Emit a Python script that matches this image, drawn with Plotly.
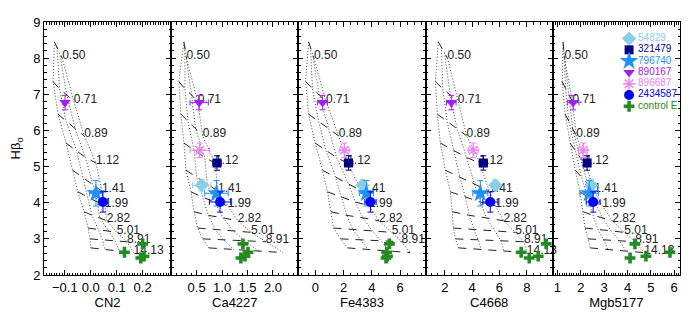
import plotly.graph_objects as go

# ---------------- data ----------------
ages = ["0.50", "0.71", "0.89", "1.12", "1.41", "1.99", "2.82", "5.01", "8.91", "14.13"]

# SSP model grid: one row per age, columns = 4 metallicities (low -> high)
model_hbeta = [
    [8.45, 8.30, 8.15, 8.00],
    [7.35, 7.15, 6.98, 6.80],
    [6.45, 6.25, 6.05, 5.85],
    [5.65, 5.45, 5.25, 5.10],
    [4.90, 4.70, 4.50, 4.32],
    [4.30, 4.15, 4.02, 3.92],
    [3.75, 3.65, 3.58, 3.50],
    [3.30, 3.25, 3.22, 3.18],
    [3.00, 2.97, 2.94, 2.92],
    [2.75, 2.70, 2.66, 2.62],
]
model_cn2 = [
    [-0.140, -0.130, -0.120, -0.110],
    [-0.145, -0.120, -0.092, -0.065],
    [-0.126, -0.095, -0.060, -0.025],
    [-0.095, -0.055, -0.020, 0.020],
    [-0.070, -0.030, 0.008, 0.043],
    [-0.050, -0.012, 0.025, 0.054],
    [-0.025, 0.005, 0.035, 0.062],
    [-0.010, 0.030, 0.068, 0.100],
    [-0.003, 0.045, 0.095, 0.140],
    [0.000, 0.055, 0.110, 0.165],
]
model_ca4227 = [
    [0.25, 0.27, 0.28, 0.30],
    [0.15, 0.27, 0.40, 0.52],
    [0.19, 0.33, 0.48, 0.62],
    [0.25, 0.45, 0.66, 0.86],
    [0.29, 0.50, 0.71, 0.92],
    [0.39, 0.62, 0.86, 1.11],
    [0.45, 0.73, 1.02, 1.31],
    [0.52, 0.87, 1.22, 1.57],
    [0.62, 1.03, 1.45, 1.86],
    [0.74, 1.23, 1.72, 2.20],
]
model_fe4383 = [
    [-0.48, -0.35, -0.22, -0.10],
    [-0.69, -0.20, 0.28, 0.75],
    [-0.48, 0.23, 0.94, 1.65],
    [-0.01, 0.75, 1.50, 2.25],
    [0.50, 1.43, 2.37, 3.30],
    [0.86, 1.84, 2.82, 3.80],
    [1.10, 2.23, 3.37, 4.50],
    [1.29, 2.66, 4.03, 5.40],
    [1.78, 3.22, 4.66, 6.10],
    [2.27, 3.75, 5.22, 6.70],
]
model_c4668 = [
    [1.53, 1.75, 1.98, 2.20],
    [1.32, 1.86, 2.40, 2.95],
    [1.46, 2.17, 2.89, 3.60],
    [1.68, 2.64, 3.60, 4.55],
    [2.04, 3.11, 4.18, 5.25],
    [2.41, 3.51, 4.60, 5.70],
    [2.55, 3.80, 5.05, 6.30],
    [2.63, 4.14, 5.65, 7.15],
    [2.78, 4.45, 6.12, 7.80],
    [3.00, 4.67, 6.33, 8.00],
]
model_mgb5177 = [
    [1.24, 1.26, 1.28, 1.30],
    [1.20, 1.35, 1.50, 1.64],
    [1.33, 1.49, 1.65, 1.81],
    [1.54, 1.76, 1.97, 2.19],
    [1.76, 2.03, 2.31, 2.58],
    [1.97, 2.29, 2.60, 2.92],
    [2.10, 2.52, 2.93, 3.35],
    [2.18, 2.74, 3.30, 3.86],
    [2.31, 2.98, 3.66, 4.33],
    [2.40, 3.17, 3.95, 4.72],
]
# which age labels are printed in each panel
labels_shown_cn2 = ages
labels_shown_ca4227 = ages[:-1]
labels_shown_fe4383 = ages[:-1]
labels_shown_c4668 = ages
labels_shown_mgb5177 = ages

# galaxies
gal_names = ["54829", "321479", "796740", "890167", "896687", "2434587"]
gal_hbeta = [4.48, 5.10, 4.26, 6.77, 5.45, 4.02]
gal_hbeta_err = [0.15, 0.20, 0.35, 0.20, 0.20, 0.28]
gal_cn2 = [None, None, 0.020, -0.099, None, 0.047]
gal_cn2_err = [None, None, 0.025, 0.005, None, 0.015]
gal_ca4227 = [0.60, 0.90, 0.89, 0.55, 0.56, 0.96]
gal_ca4227_err = [0.18, 0.08, 0.23, 0.18, 0.19, 0.21]
gal_fe4383 = [3.33, 2.35, 3.61, 0.51, 2.06, 3.90]
gal_fe4383_err = [0.25, 0.30, 0.50, 0.35, 0.33, 0.40]
gal_c4668 = [5.70, 4.82, 4.60, 2.48, 4.09, 5.33]
gal_c4668_err = [0.30, 0.30, 0.55, 0.35, 0.35, 0.55]
gal_mgb5177 = [2.44, 2.27, 2.36, 1.67, 2.10, 2.53]
gal_mgb5177_err = [0.20, 0.15, 0.40, 0.25, 0.20, 0.30]

# control ellipticals
ctrl_hbeta = [2.86, 2.63, 2.47, 2.52]
ctrl_cn2 = [0.200, 0.130, 0.193, 0.205]
ctrl_ca4227 = [1.41, 1.51, 1.37, 1.45]
ctrl_fe4383 = [5.24, 5.05, 5.00, 5.10]
ctrl_c4668 = [9.42, 7.59, 8.18, 8.83]
ctrl_mgb5177 = [4.32, 5.82, 4.11, 4.79]

# axes
panel_titles = ["CN2", "Ca4227", "Fe4383", "C4668", "Mgb5177"]
x_ranges = [[-0.18, 0.31], [0.0, 2.5], [-1.2, 7.8], [0.6, 9.9], [0.8, 6.25]]
x_tickvals = [[-0.1, 0.0, 0.1, 0.2], [0.5, 1.0, 1.5, 2.0], [0, 2, 4, 6], [2, 4, 6, 8], [1, 2, 3, 4, 5, 6]]
x_ticktext = [["−0.1", "0.0", "0.1", "0.2"], ["0.5", "1.0", "1.5", "2.0"], ["0", "2", "4", "6"],
              ["2", "4", "6", "8"], ["1", "2", "3", "4", "5", "6"]]
x_minor = [0.01, 0.1, 0.5, 0.5, 0.1]
y_range = [2, 9]
y_ticks = [2, 3, 4, 5, 6, 7, 8, 9]

# ---------------- styles ----------------
gal_colors = ["#87CEEB", "#000080", "#1E90FF", "#A020F0", "#EE82EE", "#0000FF"]
gal_symbols = ["diamond", "square", "star", "triangle-down", "asterisk-open", "circle"]
gal_sizes = [11, 9, 14, 10, 10, 10]
ctrl_color = "#228B22"
FONT = "Liberation Sans"

# the page body has an 8px margin: the figure is shrunk so that it fits the window
OFF = 8
W, H = 691 - OFF, 316 - OFF
ML, MR, MT, MB = 43 - OFF, 11, 15 - OFF, 41

models = [model_cn2, model_ca4227, model_fe4383, model_c4668, model_mgb5177]
shown = [labels_shown_cn2, labels_shown_ca4227, labels_shown_fe4383, labels_shown_c4668, labels_shown_mgb5177]
gal_x = [gal_cn2, gal_ca4227, gal_fe4383, gal_c4668, gal_mgb5177]
gal_xe = [gal_cn2_err, gal_ca4227_err, gal_fe4383_err, gal_c4668_err, gal_mgb5177_err]
ctrl_x = [ctrl_cn2, ctrl_ca4227, ctrl_fe4383, ctrl_c4668, ctrl_mgb5177]

fig = go.Figure()
layout = {}
npan = 5
for i in range(npan):
    xa = "x" if i == 0 else f"x{i+1}"
    ya = "y" if i == 0 else f"y{i+1}"
    model = models[i]
    nz = len(model[0])
    # constant-metallicity tracks (dotted)
    for z in range(nz):
        fig.add_trace(go.Scatter(
            x=[row[z] for row in model], y=[row[z] for row in model_hbeta],
            mode="lines", line=dict(color="#444444", width=1, dash="1px,2px"),
            xaxis=xa, yaxis=ya, showlegend=False, hoverinfo="skip"))
    # constant-age lines (dashed)
    for a in range(len(ages)):
        fig.add_trace(go.Scatter(
            x=model[a], y=model_hbeta[a], mode="lines",
            line=dict(color="#222222", width=1, dash="8px,7px"),
            xaxis=xa, yaxis=ya, showlegend=False, hoverinfo="skip"))
    # age labels
    lx, ly, lt = [], [], []
    for a, age in enumerate(ages):
        if age in shown[i]:
            lx.append(model[a][-1])
            ly.append(model_hbeta[a][-1] + 0.05)
            lt.append(age)
    fig.add_trace(go.Scatter(
        x=lx, y=ly, text=lt, mode="text", textposition="middle right",
        textfont=dict(family=FONT, size=12, color="#222222"), cliponaxis=False,
        xaxis=xa, yaxis=ya, showlegend=False, hoverinfo="skip"))
    # galaxies
    for g in range(len(gal_names)):
        xv = gal_x[i][g]
        if xv is None:
            continue
        col = gal_colors[g]
        sym = gal_symbols[g]
        mk = dict(color=col, size=gal_sizes[g], symbol=sym)
        if sym.endswith("-open"):
            mk["line"] = dict(color=col, width=1.5)
        else:
            mk["line"] = dict(width=0)
        fig.add_trace(go.Scatter(
            x=[xv], y=[gal_hbeta[g]], mode="markers", marker=mk,
            error_x=dict(type="data", array=[gal_xe[i][g]], color=col, thickness=1, width=3),
            error_y=dict(type="data", array=[gal_hbeta_err[g]], color=col, thickness=1, width=3),
            xaxis=xa, yaxis=ya, showlegend=False, hoverinfo="skip"))
    # control ellipticals
    fig.add_trace(go.Scatter(
        x=ctrl_x[i], y=ctrl_hbeta, mode="markers",
        marker=dict(color=ctrl_color, size=9, symbol="cross", line=dict(width=0)),
        xaxis=xa, yaxis=ya, showlegend=False, hoverinfo="skip"))

    d0 = i / npan
    d1 = (i + 1) / npan
    axcommon = dict(showline=True, linecolor="black", linewidth=1, mirror="allticks",
                    ticks="inside", ticklen=5, tickwidth=1, tickcolor="black",
                    showgrid=False, zeroline=False, ticklabeloverflow="allow",
                    tickfont=dict(family=FONT, size=13, color="black"))
    layout["xaxis" if i == 0 else f"xaxis{i+1}"] = dict(
        domain=[d0, d1], range=x_ranges[i], anchor=ya,
        tickmode="array", tickvals=x_tickvals[i], ticktext=x_ticktext[i],
        minor=dict(ticks="inside", ticklen=2.5, dtick=x_minor[i], tick0=0, tickcolor="black", showgrid=False),
        title=dict(text=panel_titles[i], font=dict(family=FONT, size=13, color="black"), standoff=0),
        **axcommon)
    layout["yaxis" if i == 0 else f"yaxis{i+1}"] = dict(
        domain=[0, 1], range=y_range, anchor=xa,
        tickmode="array", tickvals=y_ticks, showticklabels=(i == 0),
        minor=dict(ticks="inside", ticklen=2.5, dtick=0.2, tick0=0, tickcolor="black", showgrid=False),
        title=dict(text="Hβ<sub>o</sub>" if i == 0 else "", font=dict(family=FONT, size=13, color="black"), standoff=9),
        **axcommon)

# legend drawn on a pixel-coordinate overlay axis (coordinates in window pixels)
legend_names = gal_names + ["control E"]
legend_colors = gal_colors + [ctrl_color]
legend_symbols = gal_symbols + ["cross"]
legend_sizes = gal_sizes + [9]
leg_x, leg_y0, leg_dy, leg_tx = 629, 32, 11.6, 638
for k in range(len(legend_names)):
    mk = dict(color=legend_colors[k], size=legend_sizes[k], symbol=legend_symbols[k])
    if legend_symbols[k].endswith("-open"):
        mk["line"] = dict(color=legend_colors[k], width=1.5)
    else:
        mk["line"] = dict(width=0)
    fig.add_trace(go.Scatter(x=[leg_x], y=[leg_y0 + k * leg_dy], mode="markers", marker=mk,
                             xaxis="x6", yaxis="y6", showlegend=False, hoverinfo="skip", cliponaxis=False))
    fig.add_trace(go.Scatter(x=[leg_tx], y=[leg_y0 + k * leg_dy], mode="text", text=[legend_names[k]],
                             textposition="middle right",
                             textfont=dict(family=FONT, size=10, color=legend_colors[k]),
                             xaxis="x6", yaxis="y6", showlegend=False, hoverinfo="skip", cliponaxis=False))
layout["xaxis6"] = dict(domain=[0, 1], range=[ML + OFF, W + OFF - MR], anchor="y6", visible=False, fixedrange=True)
layout["yaxis6"] = dict(domain=[0, 1], range=[H + OFF - MB, MT + OFF], anchor="x6", visible=False, fixedrange=True)

fig.update_layout(
    width=W, height=H, margin=dict(l=ML, r=MR, t=MT, b=MB, pad=0),
    paper_bgcolor="white", plot_bgcolor="rgba(0,0,0,0)",
    showlegend=False, font=dict(family=FONT, size=13, color="black"),
    **layout)

fig.write_html("out.html")
